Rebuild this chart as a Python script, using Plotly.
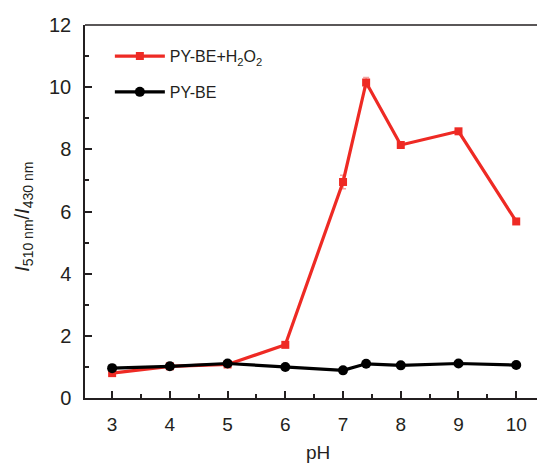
import plotly.graph_objects as go

ph = [3, 4, 5, 6, 7, 7.4, 8, 9, 10]
ratio_h2o2 = [0.80, 1.02, 1.08, 1.71, 6.95, 10.15, 8.14, 8.58, 5.68]
err_h2o2 = [0.04, 0.04, 0.04, 0.05, 0.22, 0.16, 0.06, 0.06, 0.06]
ratio_blank = [0.96, 1.02, 1.11, 1.00, 0.89, 1.10, 1.05, 1.11, 1.06]
err_blank = [0.03, 0.03, 0.03, 0.03, 0.03, 0.03, 0.03, 0.03, 0.03]
x_ticks = [3, 4, 5, 6, 7, 8, 9, 10]
y_ticks = [0, 2, 4, 6, 8, 10, 12]

RED = "#ee2a24"
FONT = "Liberation Sans, Arial, sans-serif"

fig = go.Figure()
fig.add_trace(go.Scatter(
    x=ph, y=ratio_h2o2, mode="lines+markers", name="PY-BE+H<sub>2</sub>O<sub>2</sub>",
    legendgroup="a",
    line=dict(color=RED, width=3.2),
    marker=dict(symbol="square", size=8, color=RED),
    error_y=dict(type="data", array=err_h2o2, color="#f4a3a0", thickness=1.5, width=3),
))
fig.add_trace(go.Scatter(
    x=ph, y=ratio_blank, mode="lines+markers", name="PY-BE",
    legendgroup="b",
    line=dict(color="black", width=3.2),
    marker=dict(symbol="circle", size=10, color="black"),
    error_y=dict(type="data", array=err_blank, color="#555555", thickness=1, width=3),
))

fig.update_layout(
    width=537, height=464,
    margin=dict(l=85, r=0, t=25, b=66),
    paper_bgcolor="white", plot_bgcolor="white",
    font=dict(family=FONT, color="#231f20", size=18),
    showlegend=True,
    legend=dict(x=0.055, y=0.962, xanchor="left", yanchor="top",
                font=dict(size=16, family=FONT, color="#231f20"), bgcolor="rgba(0,0,0,0)",
                itemwidth=50, tracegroupgap=12),
    xaxis=dict(range=[2.53, 10.36], tickvals=x_ticks, ticks="inside", ticklen=7,
               tickwidth=1.5, tickcolor="#231f20",
               showline=True, linecolor="#231f20", linewidth=1.5, mirror=False,
               showgrid=False, zeroline=False,
               minor=dict(dtick=0.5, tick0=3, ticks="inside", ticklen=4,
                          tickwidth=1.5, tickcolor="#231f20", showgrid=False),
               tickfont=dict(size=19), ticklabelstandoff=8),
    yaxis=dict(range=[0, 12], tickvals=y_ticks, ticks="inside", ticklen=7,
               tickwidth=1.5, tickcolor="#231f20",
               showline=True, linecolor="#231f20", linewidth=1.5, mirror=False,
               showgrid=False, zeroline=False,
               minor=dict(dtick=1, tick0=0, ticks="inside", ticklen=4,
                          tickwidth=1.5, tickcolor="#231f20", showgrid=False),
               tickfont=dict(size=20), ticklabelstandoff=8),
)
# top border line
fig.add_shape(type="line", xref="paper", yref="paper", x0=0, x1=1, y0=1, y1=1,
              line=dict(color="#231f20", width=1.5))

fig.add_annotation(text="pH", xref="paper", yref="paper", x=0.515, y=-0.146,
                   xanchor="center", yanchor="middle", showarrow=False,
                   font=dict(size=19, family=FONT))
fig.add_annotation(text="<i>I</i><sub>510 nm</sub>/<i>I</i><sub>430 nm</sub>",
                   xref="paper", yref="paper", x=-0.138, y=0.485, textangle=-90,
                   xanchor="center", yanchor="middle", showarrow=False,
                   font=dict(size=20, family=FONT))

fig.write_html("out.html")
